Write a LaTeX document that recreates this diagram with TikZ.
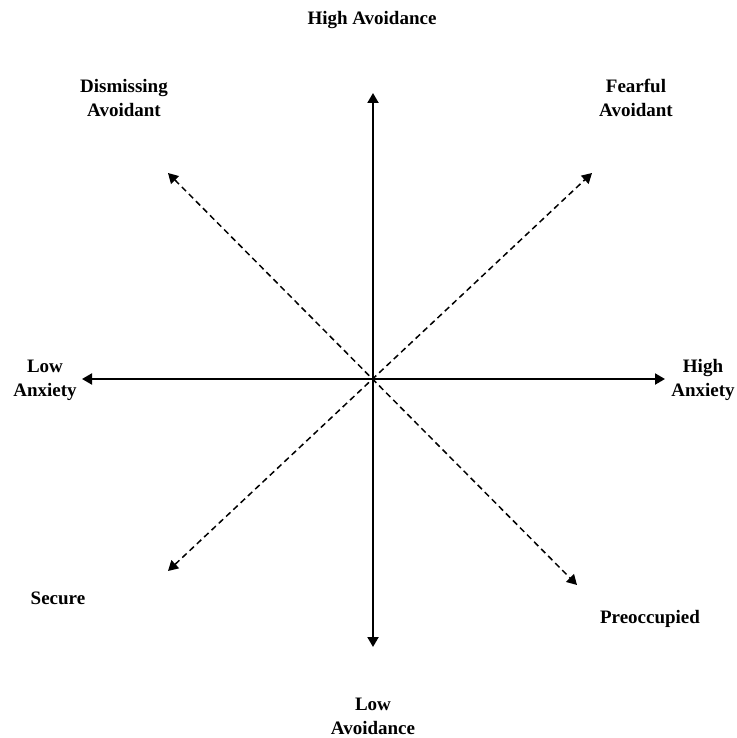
\documentclass[tikz,border=0pt]{standalone}
\usepackage{fontspec}
\setmainfont{Liberation Serif}
\usetikzlibrary{arrows.meta}
\begin{document}
\begin{tikzpicture}[x=1pt,y=-1pt,
  lbl/.style={font=\bfseries\fontsize{19}{24}\selectfont, align=center, inner sep=0pt},
  tip/.tip={Triangle[length=10pt,width=11pt]},
  axis/.style={line width=2pt, tip-tip},
  diag/.style={line width=1.5pt, dash pattern=on 6pt off 4pt, tip-tip}]
\useasboundingbox (0,0) rectangle (736,738);
\coordinate (c) at (373,379);
\coordinate (top) at (373,93);
\coordinate (bot) at (373,647);
\coordinate (left) at (82,379);
\coordinate (right) at (665,379);
\coordinate (ul) at (168,173);
\coordinate (lr) at (577,585);
\coordinate (ur) at (592,173);
\coordinate (ll) at (168,571);

\draw[axis] (bot) -- (top);
\draw[axis] (left) -- (right);
\draw[diag] (ul) -- (lr);
\draw[diag] (ll) -- (ur);

\node[lbl] (highav) at (372,20) {High Avoidance};
\node[lbl] (lowav) at (373,716) {Low\\Avoidance};
\node[lbl] (lowanx) at (45,380) {Low\\Anxiety};
\node[lbl] (highanx) at (703,380) {High\\Anxiety};
\node[lbl] (dism) at (124,98) {Dismissing\\Avoidant};
\node[lbl] (fear) at (636,98) {Fearful\\Avoidant};
\node[lbl] (sec) at (58,598) {Secure};
\node[lbl] (preo) at (650,619) {Preoccupied};
\end{tikzpicture}
\end{document}
